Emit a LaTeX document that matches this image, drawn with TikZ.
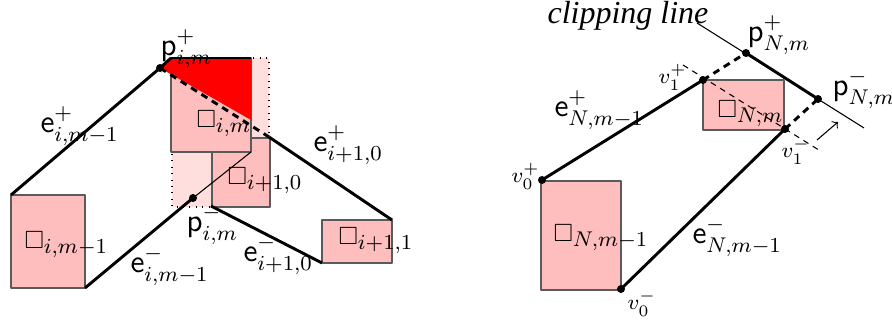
\documentclass[tikz,border=0pt]{standalone}
\usepackage{amsmath,amssymb}
\usepackage{fontspec}
\newfontfamily\clipfont{Liberation Serif}
\definecolor{cellpink}{RGB}{255,190,190}
\definecolor{lightpink}{RGB}{255,222,222}
\definecolor{celledge}{RGB}{90,90,90}
\newcommand{\cellbox}{\mathord{\scalebox{0.78}{$\square$}}}

\begin{document}
\begin{tikzpicture}[x=0.375pt,y=-0.375pt,>=to, line join=round,
        cell/.style={fill=cellpink,draw=celledge,line width=0.5pt},
        edge/.style={line width=1.1pt},
        dashedge/.style={line width=1.1pt,dash pattern=on 2.6pt off 2pt},
        lab/.style={anchor=base west,inner sep=0pt,font=\fontsize{12}{14}\selectfont},
        vlab/.style={anchor=base west,inner sep=0pt,font=\footnotesize}]
        \useasboundingbox (0,0) rectangle (892,323);
        % left part
        \coordinate (cA1) at (11,195);  \coordinate (cA2) at (85,288);
        \coordinate (cB1) at (171,58);  \coordinate (cB2) at (251,152);
        \coordinate (cC1) at (212,138); \coordinate (cC2) at (270,207);
        \coordinate (cD1) at (322,220); \coordinate (cD2) at (392,263);
        \coordinate (lp1) at (172,58);  \coordinate (lp2) at (269,207);
        \coordinate (redA) at (251,58); \coordinate (redB) at (251,120);
        \coordinate (pip) at (160,68);  \coordinate (pim) at (193,198);
        \coordinate (qA) at (269,137);  \coordinate (qB) at (211,206);
        \draw[dotted,fill=lightpink] (lp1) rectangle (lp2);
        \draw[cell] (cC1) rectangle (cC2);
        \draw[cell] (cB1) rectangle (cB2);
        \draw[cell] (cA1) rectangle (cA2);
        \draw[cell] (cD1) rectangle (cD2);
        \fill[red] (pip)--(cB1)--(redA)--(redB)--cycle;
        \draw[line width=0.5pt] (cB1)--(redA);
        \draw[edge] (cA1)--(pip)--(cB1);
        \draw[dashedge] (pip)--(qA);
        \draw[edge] (qA)--(cD2|-cD1);
        \draw[edge] (cD1|-cD2)--(qB);
        \draw[edge] (cA2)--(pim);
        \draw[line width=0.4pt] (pim)--(cB2);
        \fill (pip) circle[radius=1.5pt];
        \fill (pim) circle[radius=1.5pt];
        \node[lab] (labEa) at (40,133) {$\mathsf{e}^+_{i,m-1}$};
        \node[lab] (labEb) at (130,273) {$\mathsf{e}^-_{i,m-1}$};
        \node[lab] (labEc) at (313,152) {$\mathsf{e}^+_{i+1,0}$};
        \node[lab] (labEd) at (243,262) {$\mathsf{e}^-_{i+1,0}$};
        \node[lab] (labPa) at (160,56) {$\mathsf{p}^+_{i,m}$};
        \node[lab] (labPb) at (186,232) {$\mathsf{p}^-_{i,m}$};
        \node[lab] (labCa) at (24,249) {$\cellbox_{i,m-1}$};
        \node[lab] (labCb) at (196,128) {$\cellbox_{i,m}$};
        \node[lab] (labCc) at (227,185) {$\cellbox_{i+1,0}$};
        \node[lab] (labCd) at (338,245) {$\cellbox_{i+1,1}$};
        % right part
        \coordinate (cE1) at (541,181); \coordinate (cE2) at (621,290);
        \coordinate (cF1) at (703,80);  \coordinate (cF2) at (784,130);
        \coordinate (v0p) at (542,180); \coordinate (v0m) at (621,289);
        \coordinate (v1p) at (703,80);  \coordinate (v1m) at (785,129);
        \coordinate (pNp) at (746,53);  \coordinate (pNm) at (818,99);
        \coordinate (clA) at (697,23);  \coordinate (clB) at (864,128);
        \coordinate (dA) at (683,65);   \coordinate (dB) at (822,152);
        \coordinate (arA) at (817,140); \coordinate (arB) at (838,122);
        \draw[cell] (cE1) rectangle (cE2);
        \draw[cell] (cF1) rectangle (cF2);
        \draw[line width=0.4pt,dash pattern=on 2.2pt off 1.9pt] (dA)--(dB);
        \draw[line width=0.4pt] (clA)--(clB);
        \draw[edge] (pNp)--(pNm);
        \draw[dashedge] (v1p)--(pNp);
        \draw[dashedge] (v1m)--(pNm);
        \draw[edge] (v0p)--(v1p);
        \draw[edge] (v0m)--(v1m);
        \draw[->,line width=0.4pt] (arA)--(arB);
        \foreach \p in {v0p,v0m,v1p,v1m,pNp,pNm} \fill (\p) circle[radius=1.5pt];
        \node[lab] (labEe) at (554,117) {$\mathsf{e}^+_{N,m-1}$};
        \node[lab] (labEf) at (692,244) {$\mathsf{e}^-_{N,m-1}$};
        \node[lab] (labPc) at (747,42) {$\mathsf{p}^+_{N,m}$};
        \node[lab] (labPd) at (832,96) {$\mathsf{p}^-_{N,m}$};
        \node[lab] (labCe) at (553,242) {$\cellbox_{N,m-1}$};
        \node[lab] (labCf) at (717,118) {$\cellbox_{N,m}$};
        \node[vlab] (labVa) at (658,84) {$v_1^+$};
        \node[vlab] (labVb) at (781,158) {$v_1^-$};
        \node[vlab] (labVc) at (511,183) {$v_0^+$};
        \node[vlab] (labVd) at (627,310) {$v_0^-$};
        \node[lab] (labClip) at (547,24) {\clipfont\itshape clipping line};
\end{tikzpicture}
\end{document}
